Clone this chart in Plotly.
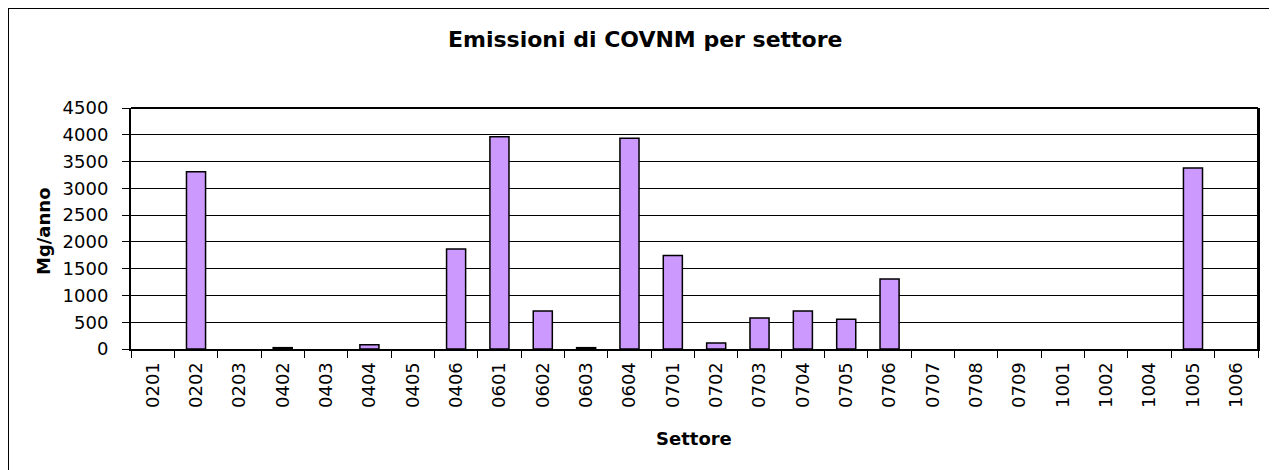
import plotly.graph_objects as go

# sectors and VOC emissions (Mg/anno)
settori = ["0201", "0202", "0203", "0402", "0403", "0404", "0405", "0406", "0601",
           "0602", "0603", "0604", "0701", "0702", "0703", "0704", "0705", "0706",
           "0707", "0708", "0709", "1001", "1002", "1004", "1005", "1006"]
emissioni = [0, 3310, 0, 25, 0, 80, 0, 1865, 3965,
             710, 25, 3935, 1745, 110, 580, 710, 555, 1305,
             0, 0, 0, 0, 0, 0, 3380, 0]
y_ticks = [0, 500, 1000, 1500, 2000, 2500, 3000, 3500, 4000, 4500]

# page has an 8px body margin, so work in page pixels and shift
OFF = 8
W, H = 1277 - OFF, 470 - OFF
px_l, px_r, px_t, px_b = 131, 1258, 108, 349  # plot area in page pixels
L, T = px_l - OFF, px_t - OFF
R, B = W - (px_r - OFF), H - (px_b - OFF)
pw, ph = px_r - px_l, px_b - px_t


def fx(x):  # page x -> paper x
    return (x - px_l) / pw


def fy(y):  # page y -> paper y
    return (px_b - y) / ph


fig = go.Figure()
fig.add_trace(go.Bar(
    x=settori, y=emissioni,
    marker=dict(color="#CC99FF",
                line=dict(color="black", width=[1.5 if v > 0 else 0 for v in emissioni])),
))

font = "DejaVu Sans, sans-serif"
fig.update_layout(
    width=W, height=H,
    margin=dict(l=L, r=R, t=T, b=B, pad=0),
    paper_bgcolor="white", plot_bgcolor="white",
    bargap=0.56,
    showlegend=False,
    font=dict(family=font, size=18, color="black"),
    xaxis=dict(
        type="category", tickangle=-90, tickson="boundaries",
        ticks="outside", ticklen=7, tickcolor="black",
        showline=True, linecolor="black", linewidth=2, mirror=False,
        showgrid=False, tickfont=dict(size=18), ticklabelstandoff=4,
    ),
    yaxis=dict(
        range=[0, 4500], tickvals=y_ticks,
        ticks="outside", ticklen=7, tickcolor="black",
        showline=True, linecolor="black", linewidth=2, mirror=True,
        showgrid=True, gridcolor="black", gridwidth=1,
        zeroline=False, tickfont=dict(size=18), ticklabelstandoff=10,
    ),
    annotations=[
        dict(text="<b>Emissioni di COVNM per settore</b>", xref="paper", yref="paper",
             x=fx(645), y=fy(40), showarrow=False,
             font=dict(size=22), xanchor="center", yanchor="middle"),
        dict(text="<b>Mg/anno</b>", xref="paper", yref="paper",
             x=fx(43), y=fy(231), showarrow=False, textangle=-90,
             font=dict(size=18), xanchor="center", yanchor="middle"),
        dict(text="<b>Settore</b>", xref="paper", yref="paper",
             x=fx(694), y=fy(438), showarrow=False,
             font=dict(size=18), xanchor="center", yanchor="middle"),
    ],
    shapes=[
        dict(type="rect", xref="paper", yref="paper",
             x0=fx(OFF + 0), x1=fx(1272),
             y0=fy(490), y1=fy(OFF + 0),
             line=dict(color="black", width=2), layer="below"),
        dict(type="line", xref="paper", yref="paper", x0=0, x1=1, y0=1, y1=1,
             line=dict(color="black", width=2)),
        dict(type="line", xref="paper", yref="paper", x0=1, x1=1, y0=0, y1=1,
             line=dict(color="black", width=2)),
    ],
)

fig.write_html("out.html")
